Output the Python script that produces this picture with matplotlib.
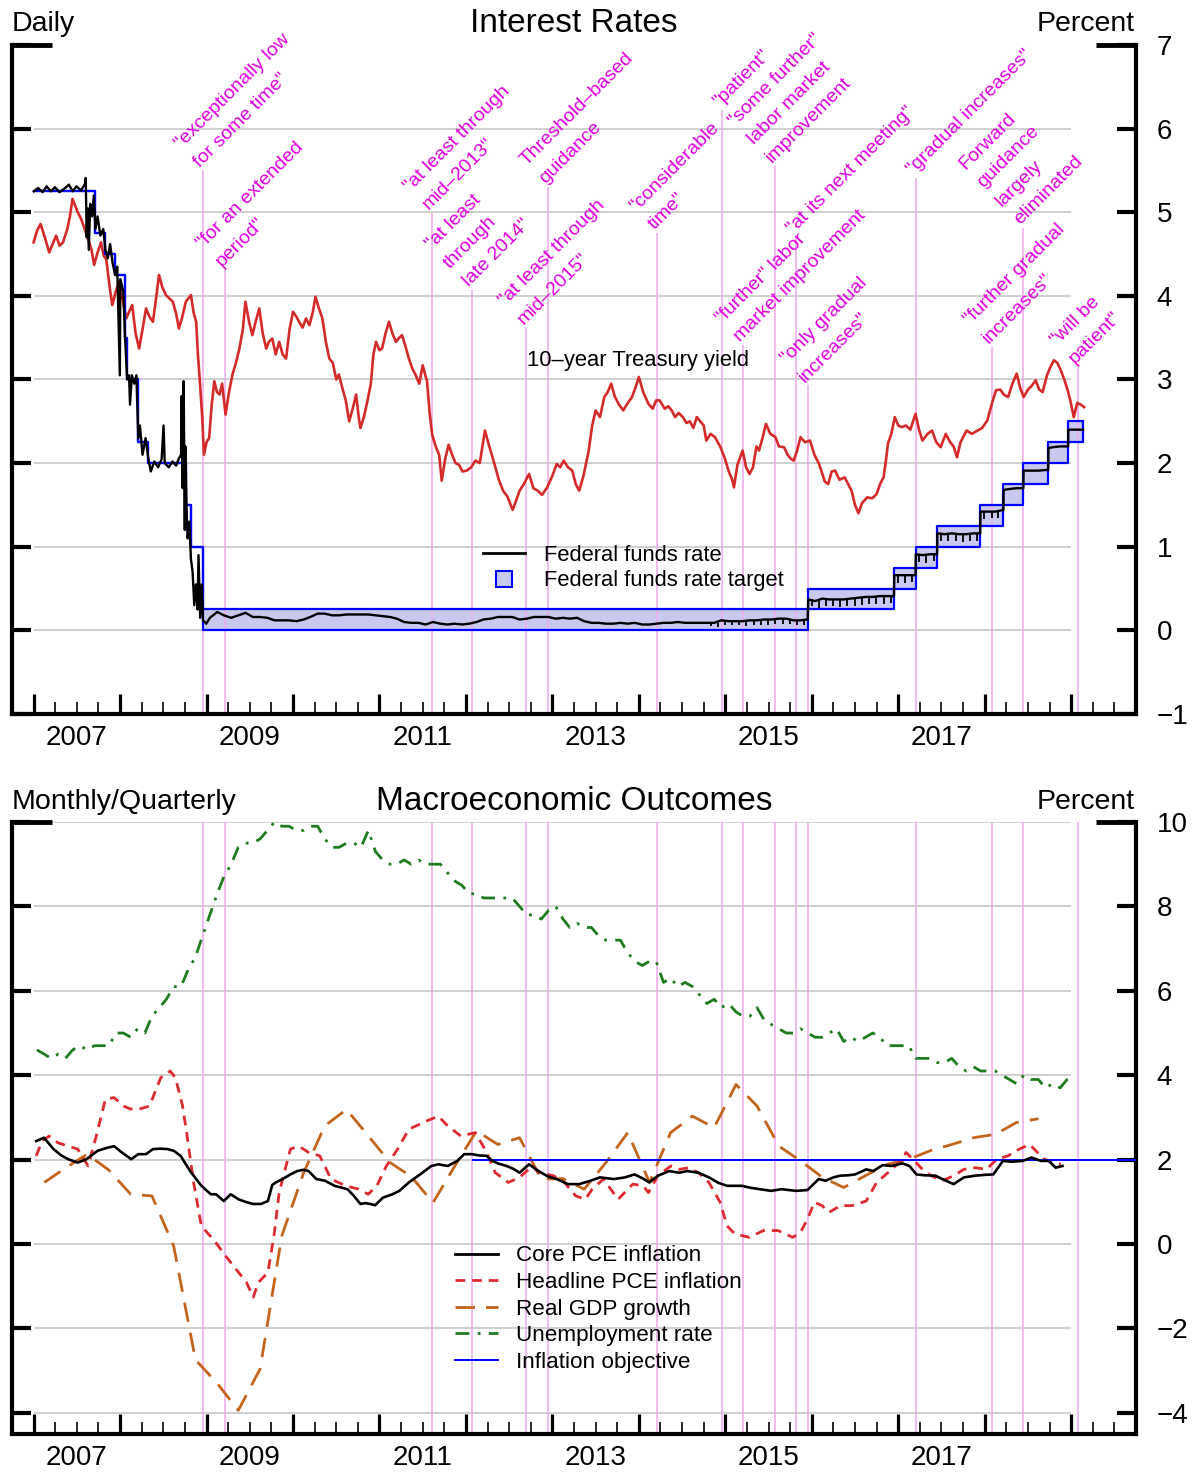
import numpy as np
import pandas as pd
import matplotlib
matplotlib.use("Agg")
import matplotlib.pyplot as plt
from matplotlib.lines import Line2D
from matplotlib.transforms import blended_transform_factory

plt.rcParams["font.family"] = ["Liberation Sans", "DejaVu Sans"]

# ---------------------------------------------------------------- data
# 10-year Treasury yield (decimal year, percent)
tsy_t = [2007.00, 2007.04, 2007.08, 2007.13, 2007.18, 2007.22, 2007.26, 2007.30, 2007.34, 2007.39,
         2007.42, 2007.45, 2007.48, 2007.51, 2007.55, 2007.59, 2007.63, 2007.67, 2007.70, 2007.74,
         2007.78, 2007.81, 2007.84, 2007.88, 2007.91, 2007.95, 2007.99, 2008.03, 2008.07, 2008.10,
         2008.14, 2008.18, 2008.22, 2008.26, 2008.30, 2008.34, 2008.38, 2008.42, 2008.45, 2008.49,
         2008.53, 2008.57, 2008.61, 2008.65, 2008.68, 2008.72, 2008.76, 2008.82, 2008.85, 2008.88,
         2008.90, 2008.92, 2008.95, 2008.97, 2009.00, 2009.03, 2009.06, 2009.09, 2009.12, 2009.15,
         2009.18, 2009.22, 2009.26, 2009.30, 2009.34, 2009.38, 2009.42, 2009.45, 2009.49, 2009.53,
         2009.57, 2009.61, 2009.65, 2009.69, 2009.72, 2009.76, 2009.80, 2009.84, 2009.88, 2009.92,
         2009.96, 2010.00, 2010.04, 2010.07, 2010.11, 2010.15, 2010.19, 2010.23, 2010.26, 2010.30,
         2010.34, 2010.38, 2010.42, 2010.46, 2010.50, 2010.53, 2010.57, 2010.61, 2010.65, 2010.69,
         2010.73, 2010.76, 2010.78, 2010.82, 2010.86, 2010.90, 2010.93, 2010.96, 2011.00, 2011.03,
         2011.07, 2011.11, 2011.15, 2011.19, 2011.23, 2011.26, 2011.30, 2011.34, 2011.38, 2011.42,
         2011.46, 2011.50, 2011.53, 2011.55, 2011.58, 2011.61, 2011.65, 2011.69, 2011.72, 2011.76,
         2011.80, 2011.84, 2011.88, 2011.92, 2011.96, 2012.01, 2012.06, 2012.11, 2012.16, 2012.22,
         2012.27, 2012.33, 2012.38, 2012.43, 2012.48, 2012.54, 2012.58, 2012.62, 2012.67, 2012.73,
         2012.78, 2012.83, 2012.88, 2012.94, 2013.00, 2013.05, 2013.09, 2013.13, 2013.18, 2013.23,
         2013.27, 2013.31, 2013.36, 2013.42, 2013.46, 2013.50, 2013.55, 2013.60, 2013.64, 2013.68,
         2013.72, 2013.77, 2013.82, 2013.86, 2013.92, 2013.96, 2014.00, 2014.05, 2014.11, 2014.16,
         2014.20, 2014.24, 2014.30, 2014.34, 2014.38, 2014.42, 2014.46, 2014.51, 2014.55, 2014.59,
         2014.63, 2014.67, 2014.71, 2014.75, 2014.78, 2014.83, 2014.88, 2014.94, 2014.99, 2015.04,
         2015.08, 2015.10, 2015.14, 2015.20, 2015.24, 2015.28, 2015.32, 2015.36, 2015.39, 2015.43,
         2015.47, 2015.52, 2015.58, 2015.62, 2015.68, 2015.72, 2015.76, 2015.79, 2015.83, 2015.87,
         2015.92, 2015.98, 2016.03, 2016.08, 2016.11, 2016.15, 2016.19, 2016.23, 2016.27, 2016.32,
         2016.38, 2016.42, 2016.46, 2016.50, 2016.54, 2016.58, 2016.64, 2016.70, 2016.75, 2016.79,
         2016.83, 2016.86, 2016.88, 2016.92, 2016.96, 2017.00, 2017.04, 2017.09, 2017.14, 2017.20,
         2017.24, 2017.28, 2017.34, 2017.39, 2017.44, 2017.49, 2017.55, 2017.60, 2017.64, 2017.68,
         2017.72, 2017.79, 2017.85, 2017.92, 2017.97, 2018.03, 2018.08, 2018.13, 2018.18, 2018.22,
         2018.27, 2018.32, 2018.37, 2018.41, 2018.45, 2018.50, 2018.54, 2018.59, 2018.63, 2018.67,
         2018.72, 2018.76, 2018.80, 2018.84, 2018.88, 2018.92, 2018.96, 2018.99, 2019.03, 2019.07,
         2019.11, 2019.15]
tsy_v = [4.64, 4.78, 4.86, 4.70, 4.52, 4.62, 4.72, 4.60, 4.64, 4.80,
         4.95, 5.16, 5.08, 5.00, 4.92, 4.80, 4.68, 4.55, 4.37, 4.52,
         4.64, 4.48, 4.44, 4.10, 3.89, 4.05, 4.17, 3.95, 3.73, 3.80,
         3.89, 3.55, 3.37, 3.60, 3.85, 3.75, 3.69, 4.00, 4.25, 4.10,
         4.01, 3.97, 3.93, 3.78, 3.61, 3.75, 3.93, 4.01, 3.80, 3.69,
         3.30, 3.02, 2.55, 2.10, 2.25, 2.30, 2.70, 2.98, 2.85, 2.82,
         2.95, 2.58, 2.85, 3.06, 3.20, 3.37, 3.60, 3.93, 3.70, 3.53,
         3.70, 3.85, 3.55, 3.37, 3.45, 3.49, 3.30, 3.45, 3.30, 3.25,
         3.60, 3.81, 3.75, 3.69, 3.62, 3.73, 3.65, 3.81, 3.99, 3.85,
         3.73, 3.45, 3.25, 3.20, 3.00, 3.06, 2.90, 2.75, 2.50, 2.65,
         2.82, 2.55, 2.42, 2.55, 2.74, 2.95, 3.30, 3.45, 3.35, 3.37,
         3.55, 3.69, 3.55, 3.45, 3.50, 3.53, 3.40, 3.25, 3.13, 3.05,
         2.95, 3.17, 3.05, 2.98, 2.60, 2.34, 2.20, 2.10, 1.79, 2.05,
         2.22, 2.10, 2.00, 1.98, 1.90, 1.91, 1.95, 2.03, 2.00, 2.39,
         2.20, 1.99, 1.80, 1.67, 1.60, 1.44, 1.55, 1.67, 1.75, 1.87,
         1.70, 1.67, 1.62, 1.71, 1.85, 1.99, 1.95, 2.03, 1.95, 1.91,
         1.75, 1.67, 1.85, 2.15, 2.45, 2.63, 2.55, 2.79, 2.85, 2.95,
         2.80, 2.70, 2.63, 2.70, 2.79, 2.90, 3.03, 2.85, 2.71, 2.65,
         2.75, 2.75, 2.65, 2.68, 2.63, 2.55, 2.60, 2.55, 2.48, 2.50,
         2.42, 2.55, 2.50, 2.45, 2.27, 2.35, 2.31, 2.20, 2.07, 1.90,
         1.80, 1.71, 1.98, 2.15, 1.95, 1.87, 1.95, 2.20, 2.15, 2.30,
         2.47, 2.35, 2.31, 2.20, 2.19, 2.10, 2.05, 2.03, 2.15, 2.31,
         2.25, 2.27, 2.10, 2.00, 1.91, 1.78, 1.75, 1.90, 1.91, 1.80,
         1.83, 1.75, 1.67, 1.50, 1.40, 1.52, 1.59, 1.58, 1.63, 1.75,
         1.83, 2.05, 2.23, 2.35, 2.55, 2.45, 2.43, 2.45, 2.40, 2.59,
         2.40, 2.27, 2.35, 2.39, 2.25, 2.19, 2.35, 2.25, 2.20, 2.07,
         2.25, 2.39, 2.35, 2.39, 2.42, 2.51, 2.70, 2.87, 2.88, 2.82,
         2.79, 2.95, 3.07, 2.90, 2.79, 2.88, 2.92, 2.99, 2.88, 2.85,
         3.05, 3.15, 3.23, 3.20, 3.11, 3.00, 2.87, 2.75, 2.55, 2.72,
         2.70, 2.67]

# effective federal funds rate, 2007-2008 (daily swings)
ffr_early_dates = ["2007-01-02", "2007-01-20", "2007-02-08", "2007-02-25", "2007-03-15", "2007-04-01",
                   "2007-04-20", "2007-05-10", "2007-05-30", "2007-06-15", "2007-07-01", "2007-07-20",
                   "2007-08-06", "2007-08-09", "2007-08-13", "2007-08-17", "2007-08-22", "2007-08-28",
                   "2007-09-05", "2007-09-12", "2007-09-19", "2007-09-28", "2007-10-10", "2007-10-22",
                   "2007-10-31", "2007-11-10", "2007-11-20", "2007-11-30", "2007-12-11", "2007-12-20",
                   "2007-12-31", "2008-01-02", "2008-01-15", "2008-01-22", "2008-01-31", "2008-02-08",
                   "2008-02-12", "2008-02-20", "2008-03-01", "2008-03-10", "2008-03-18", "2008-03-25",
                   "2008-04-05", "2008-04-18", "2008-04-30", "2008-05-10", "2008-05-25", "2008-06-10",
                   "2008-06-25", "2008-07-03", "2008-07-08", "2008-07-25", "2008-08-10", "2008-08-25",
                   "2008-09-05", "2008-09-15", "2008-09-17", "2008-09-22", "2008-09-26", "2008-10-01",
                   "2008-10-03", "2008-10-08", "2008-10-13", "2008-10-20", "2008-10-27", "2008-11-03",
                   "2008-11-10", "2008-11-17", "2008-11-24", "2008-11-28", "2008-12-05", "2008-12-12",
                   "2008-12-17", "2008-12-31"]
ffr_early_vals = [5.25, 5.29, 5.24, 5.31, 5.25, 5.30,
                  5.24, 5.28, 5.33, 5.25, 5.31, 5.26,
                  5.34, 5.41, 4.70, 5.05, 4.55, 5.10,
                  4.95, 5.20, 4.80, 4.95, 4.72, 4.80,
                  4.55, 4.45, 4.62, 4.40, 4.25, 4.35,
                  3.05, 4.20, 4.05, 3.50, 3.00, 3.05,
                  2.70, 3.05, 2.95, 3.05, 2.30, 2.45,
                  2.10, 2.30, 2.05, 1.90, 2.02, 1.95,
                  2.05, 2.45, 2.00, 1.95, 2.02, 1.97,
                  2.05, 2.10, 2.80, 1.70, 2.98, 1.20,
                  2.20, 1.50, 1.10, 1.30, 0.85, 0.70,
                  0.30, 0.55, 0.25, 0.90, 0.15, 0.55,
                  0.12, 0.08]

# effective federal funds rate, monthly Jan 2009 - Nov 2015
ffr_monthly_start = "2009-01"
ffr_monthly_vals = [0.15, 0.22, 0.18, 0.15, 0.18, 0.21, 0.16, 0.16, 0.15, 0.12, 0.12, 0.12,
                    0.11, 0.13, 0.16, 0.20, 0.20, 0.18, 0.18, 0.19, 0.19, 0.19, 0.19, 0.18,
                    0.17, 0.16, 0.14, 0.10, 0.09, 0.09, 0.07, 0.10, 0.08, 0.07, 0.08, 0.07,
                    0.08, 0.10, 0.13, 0.14, 0.16, 0.16, 0.16, 0.13, 0.14, 0.16, 0.16, 0.16,
                    0.14, 0.15, 0.14, 0.15, 0.11, 0.09, 0.09, 0.08, 0.08, 0.09, 0.08, 0.09,
                    0.07, 0.07, 0.08, 0.09, 0.09, 0.10, 0.09, 0.09, 0.09, 0.09, 0.09, 0.12,
                    0.11, 0.11, 0.11, 0.12, 0.12, 0.13, 0.13, 0.14, 0.14, 0.12, 0.12]

# effective federal funds rate around the liftoff and later hikes
ffr_late_dates = ["2015-12-15", "2015-12-17", "2016-01-15", "2016-02-15", "2016-03-15", "2016-04-15",
                  "2016-05-15", "2016-06-15", "2016-07-15", "2016-08-15", "2016-09-15", "2016-10-15",
                  "2016-11-15", "2016-12-14", "2016-12-15", "2017-01-15", "2017-02-15", "2017-03-15",
                  "2017-03-16", "2017-04-15", "2017-05-15", "2017-06-14", "2017-06-15", "2017-07-15",
                  "2017-08-15", "2017-09-15", "2017-10-15", "2017-11-15", "2017-12-13", "2017-12-14",
                  "2018-01-15", "2018-02-15", "2018-03-21", "2018-03-22", "2018-04-15", "2018-05-15",
                  "2018-06-13", "2018-06-14", "2018-07-15", "2018-08-15", "2018-09-26", "2018-09-27",
                  "2018-10-15", "2018-11-15", "2018-12-19", "2018-12-20", "2019-01-15", "2019-02-20"]
ffr_late_vals = [0.13, 0.37, 0.35, 0.38, 0.37, 0.37,
                 0.37, 0.38, 0.39, 0.40, 0.40, 0.41,
                 0.41, 0.41, 0.66, 0.66, 0.66, 0.66,
                 0.91, 0.90, 0.91, 0.91, 1.16, 1.15,
                 1.16, 1.15, 1.15, 1.16, 1.16, 1.42,
                 1.42, 1.42, 1.44, 1.68, 1.69, 1.70,
                 1.70, 1.91, 1.91, 1.91, 1.92, 2.18,
                 2.19, 2.20, 2.20, 2.40, 2.40, 2.40]

# month-end dips in the effective rate, Oct 2014 - Feb 2018
dip_start = "2014-10"
dip_top = [0.09, 0.09, 0.12,
           0.11, 0.11, 0.11, 0.12, 0.12, 0.13, 0.13, 0.14, 0.14, 0.12, 0.12, 0.37,
           0.35, 0.38, 0.37, 0.37, 0.37, 0.38, 0.39, 0.40, 0.40, 0.41, 0.41, 0.66,
           0.66, 0.66, 0.91, 0.90, 0.91, 1.16, 1.15, 1.16, 1.15, 1.15, 1.16, 1.42,
           1.42, 1.42]
dip_depth = [0.04, 0.05, 0.05,
             0.05, 0.05, 0.06, 0.05, 0.06, 0.06, 0.05, 0.06, 0.06, 0.05, 0.06, 0.08,
             0.08, 0.09, 0.08, 0.09, 0.08, 0.09, 0.09, 0.08, 0.09, 0.09, 0.08, 0.09,
             0.09, 0.08, 0.09, 0.09, 0.08, 0.09, 0.08, 0.09, 0.09, 0.08, 0.09, 0.09,
             0.08, 0.08]

# federal funds target (single value before Dec 2008, range after)
target_dates = ["2007-01-01", "2007-09-18", "2007-10-31", "2007-12-11", "2008-01-22", "2008-01-30",
                "2008-03-18", "2008-04-30", "2008-10-08", "2008-10-29", "2008-12-16", "2015-12-16",
                "2016-12-14", "2017-03-15", "2017-06-14", "2017-12-13", "2018-03-21", "2018-06-13",
                "2018-09-26", "2018-12-19"]
target_end = "2019-02-20"
target_lo = [5.25, 4.75, 4.50, 4.25, 3.50, 3.00, 2.25, 2.00, 1.50, 1.00, 0.00, 0.25,
             0.50, 0.75, 1.00, 1.25, 1.50, 1.75, 2.00, 2.25]
target_hi = [5.25, 4.75, 4.50, 4.25, 3.50, 3.00, 2.25, 2.00, 1.50, 1.00, 0.25, 0.50,
             0.75, 1.00, 1.25, 1.50, 1.75, 2.00, 2.25, 2.50]

# FOMC statement dates and forward-guidance phrases
fomc_dates = ["2008-12-16", "2009-03-18", "2011-08-09", "2012-01-25", "2012-09-13", "2012-12-12",
              "2014-03-19", "2014-12-17", "2015-03-18", "2015-07-29", "2015-10-28", "2015-12-16",
              "2017-03-15", "2018-01-31", "2018-06-13", "2019-01-30"]
fomc_text = ['"exceptionally low\nfor some time"',
             '"for an extended\nperiod"',
             '"at least through\nmid\u20132013"',
             '"at least\nthrough\nlate 2014"',
             '"at least through\nmid\u20132015"',
             'Threshold\u2013based\nguidance',
             '"considerable\ntime"',
             '"patient"',
             '"further" labor\nmarket improvement',
             '"some further"\nlabor market\nimprovement',
             '"at its next meeting"',
             '"only gradual\nincreases"',
             '"gradual increases"',
             '"further gradual\nincreases"',
             'Forward\nguidance\nlargely\neliminated',
             '"will be\npatient"']
# height (percent) where each phrase sits above the chart
fomc_label_y = [5.50, 4.31, 4.99, 4.07, 3.62, 5.30, 4.75, 6.22, 3.41, 5.55, 4.70, 2.93,
                5.41, 3.39, 4.81, 3.15]

# core PCE inflation, 12-month (decimal year, percent)
core_t = [2007.03, 2007.12, 2007.23, 2007.32, 2007.40, 2007.51, 2007.61, 2007.74, 2007.85, 2007.93,
          2008.02, 2008.13, 2008.21, 2008.30, 2008.38, 2008.47, 2008.55, 2008.62, 2008.70, 2008.81,
          2008.94, 2009.05, 2009.11, 2009.20, 2009.28, 2009.37, 2009.45, 2009.54, 2009.63, 2009.71,
          2009.76, 2009.80, 2009.88, 2009.97, 2010.05, 2010.12, 2010.18, 2010.27, 2010.37, 2010.48,
          2010.63, 2010.70, 2010.78, 2010.84, 2010.89, 2010.95, 2011.04, 2011.15, 2011.23, 2011.34,
          2011.47, 2011.60, 2011.68, 2011.79, 2011.90, 2011.98, 2012.07, 2012.15, 2012.24, 2012.30,
          2012.37, 2012.47, 2012.55, 2012.62, 2012.73, 2012.84, 2012.95, 2013.05, 2013.18, 2013.31,
          2013.44, 2013.55, 2013.63, 2013.71, 2013.84, 2013.95, 2014.05, 2014.12, 2014.22, 2014.35,
          2014.47, 2014.56, 2014.69, 2014.81, 2014.92, 2015.02, 2015.19, 2015.30, 2015.40, 2015.53,
          2015.65, 2015.82, 2015.95, 2016.08, 2016.16, 2016.25, 2016.33, 2016.42, 2016.50, 2016.63,
          2016.71, 2016.82, 2016.92, 2017.05, 2017.13, 2017.21, 2017.30, 2017.43, 2017.51, 2017.64,
          2017.76, 2017.89, 2018.00, 2018.10, 2018.21, 2018.31, 2018.44, 2018.54, 2018.65, 2018.74,
          2018.82, 2018.90]
core_v = [2.44, 2.52, 2.25, 2.10, 2.01, 1.93, 2.01, 2.21, 2.28, 2.32,
          2.17, 2.01, 2.13, 2.13, 2.25, 2.26, 2.25, 2.21, 2.09, 1.73,
          1.38, 1.18, 1.18, 1.02, 1.18, 1.06, 1.00, 0.95, 0.95, 1.02,
          1.40, 1.46, 1.54, 1.65, 1.73, 1.76, 1.73, 1.54, 1.50, 1.38,
          1.30, 1.15, 0.95, 0.97, 0.95, 0.92, 1.10, 1.18, 1.26, 1.46,
          1.65, 1.85, 1.89, 1.85, 1.97, 2.13, 2.13, 2.10, 2.09, 1.98,
          1.91, 1.85, 1.78, 1.69, 1.89, 1.73, 1.60, 1.54, 1.42, 1.42,
          1.50, 1.58, 1.56, 1.54, 1.58, 1.65, 1.55, 1.46, 1.62, 1.73,
          1.69, 1.73, 1.69, 1.58, 1.45, 1.38, 1.38, 1.33, 1.30, 1.26,
          1.30, 1.26, 1.28, 1.54, 1.50, 1.58, 1.62, 1.63, 1.65, 1.77,
          1.73, 1.87, 1.85, 1.91, 1.85, 1.65, 1.63, 1.62, 1.54, 1.42,
          1.58, 1.62, 1.64, 1.65, 1.97, 1.95, 1.97, 2.05, 1.97, 1.97,
          1.81, 1.85]

# headline PCE inflation, 12-month (decimal year, percent)
head_t = [2007.03, 2007.10, 2007.18, 2007.28, 2007.40, 2007.51, 2007.63, 2007.73, 2007.83, 2007.93,
          2008.04, 2008.12, 2008.21, 2008.34, 2008.47, 2008.58, 2008.64, 2008.72, 2008.77, 2008.85,
          2008.94, 2009.09, 2009.22, 2009.37, 2009.46, 2009.54, 2009.60, 2009.71, 2009.78, 2009.84,
          2009.97, 2010.07, 2010.18, 2010.31, 2010.44, 2010.61, 2010.76, 2010.87, 2010.97, 2011.08,
          2011.21, 2011.34, 2011.55, 2011.68, 2011.79, 2011.94, 2012.11, 2012.24, 2012.34, 2012.49,
          2012.62, 2012.77, 2012.84, 2013.01, 2013.14, 2013.27, 2013.38, 2013.46, 2013.59, 2013.76,
          2013.93, 2014.05, 2014.11, 2014.22, 2014.37, 2014.47, 2014.58, 2014.69, 2014.81, 2014.94,
          2015.02, 2015.11, 2015.28, 2015.44, 2015.61, 2015.78, 2015.87, 2015.95, 2016.03, 2016.12,
          2016.20, 2016.33, 2016.46, 2016.63, 2016.75, 2016.88, 2017.01, 2017.09, 2017.17, 2017.26,
          2017.38, 2017.51, 2017.64, 2017.76, 2017.89, 2018.02, 2018.14, 2018.27, 2018.40, 2018.52,
          2018.61, 2018.69, 2018.80, 2018.88]
head_v = [2.09, 2.45, 2.56, 2.40, 2.32, 2.25, 1.85, 2.60, 3.43, 3.47,
          3.27, 3.20, 3.19, 3.27, 3.94, 4.10, 3.94, 3.30, 2.64, 1.46,
          0.43, 0.08, -0.28, -0.67, -0.90, -1.26, -0.91, -0.67, 0.20, 1.22,
          2.25, 2.32, 2.17, 2.09, 1.54, 1.38, 1.30, 1.18, 1.38, 1.85,
          2.25, 2.72, 2.92, 3.03, 2.80, 2.56, 2.64, 2.17, 1.69, 1.46,
          1.58, 1.85, 1.69, 1.62, 1.46, 1.14, 1.06, 1.30, 1.54, 1.06,
          1.42, 1.38, 1.22, 1.62, 1.85, 1.77, 1.81, 1.69, 1.46, 0.99,
          0.43, 0.24, 0.16, 0.32, 0.32, 0.16, 0.28, 0.59, 0.99, 0.91,
          0.75, 0.91, 0.91, 1.02, 1.46, 1.69, 1.93, 2.17, 2.01, 1.81,
          1.62, 1.50, 1.62, 1.77, 1.81, 1.77, 2.01, 2.09, 2.25, 2.36,
          2.17, 2.01, 1.93, 1.89]

# real GDP growth, 4-quarter, 2007Q1 - 2018Q3
gdp_start = "2007Q1"
gdp_v = [1.46, 1.80, 2.13, 1.75,
         1.18, 1.14, -0.05, -2.74,
         -3.30, -3.94, -2.96, 0.20,
         1.69, 2.80, 3.19, 2.56,
         1.93, 1.60, 0.98, 1.85,
         2.68, 2.36, 2.52, 1.54,
         1.55, 1.30, 1.93, 2.64,
         1.46, 2.64, 3.03, 2.76,
         3.78, 3.27, 2.32, 1.97,
         1.58, 1.34, 1.62, 1.89,
         2.01, 2.21, 2.36, 2.52,
         2.60, 2.88, 2.97]

# unemployment rate, monthly Jan 2007 - Jan 2019
unemp_start = "2007-01"
unemp_v = [4.6, 4.5, 4.4, 4.5, 4.4, 4.6, 4.7, 4.6, 4.7, 4.7, 4.7, 5.0,
           5.0, 4.9, 5.1, 5.0, 5.4, 5.6, 5.8, 6.1, 6.1, 6.5, 6.8, 7.3,
           7.8, 8.3, 8.7, 9.0, 9.4, 9.5, 9.5, 9.6, 9.8, 10.0, 9.9, 9.9,
           9.8, 9.8, 9.9, 9.9, 9.6, 9.4, 9.4, 9.5, 9.5, 9.4, 9.8, 9.3,
           9.1, 9.0, 9.0, 9.1, 9.0, 9.1, 9.0, 9.0, 9.0, 8.8, 8.6, 8.5,
           8.3, 8.3, 8.2, 8.2, 8.2, 8.2, 8.2, 8.0, 7.8, 7.8, 7.7, 7.9,
           8.0, 7.7, 7.5, 7.6, 7.5, 7.5, 7.3, 7.2, 7.2, 7.2, 6.9, 6.7,
           6.6, 6.7, 6.7, 6.2, 6.3, 6.1, 6.2, 6.1, 5.9, 5.7, 5.8, 5.6,
           5.7, 5.5, 5.4, 5.4, 5.6, 5.3, 5.2, 5.1, 5.0, 5.0, 5.1, 5.0,
           4.9, 4.9, 5.0, 5.1, 4.8, 4.9, 4.8, 4.9, 5.0, 4.9, 4.7, 4.7,
           4.7, 4.7, 4.4, 4.4, 4.4, 4.3, 4.3, 4.4, 4.2, 4.1, 4.2, 4.1,
           4.1, 4.1, 4.0, 3.9, 3.8, 4.0, 3.9, 3.9, 3.7, 3.8, 3.7, 3.9,
           4.0]

inflation_objective = 2.0
objective_start = "2012-01-25"

year_labels = [2007, 2009, 2011, 2013, 2015, 2017]

# ---------------------------------------------------------------- helpers
MAGENTA = "#e000e0"
VLINE = "#eeaaee"
GRID = "#cccccc"
BLUE = "#0000ff"
FILL = "#c9c9f0"


def to_year(dates):
    d = pd.DatetimeIndex(pd.to_datetime(dates))
    days = np.where(d.is_leap_year, 366.0, 365.0)
    return np.asarray(d.year + (d.dayofyear - 1) / days, dtype=float)


def frame(ax, yticks, ylim, grid_vals, label_y):
    ax.set_xlim(2006.75, 2019.75)
    ax.set_ylim(*ylim)
    ax.spines["top"].set_visible(False)
    for s in ["left", "right", "bottom"]:
        ax.spines[s].set_linewidth(3)
    ax.set_yticks(yticks)
    ax.yaxis.set_ticks_position("both")
    ax.tick_params(axis="y", direction="in", length=14, width=3,
                   labelleft=False, labelright=True, labelsize=20, pad=15)
    ax.set_xticks(np.arange(2007, 2020))
    ax.set_xticks(np.arange(2006.75, 2019.76, 0.25), minor=True)
    ax.xaxis.set_ticks_position("bottom")
    ax.tick_params(axis="x", which="major", direction="in", length=14.5, width=2.3,
                   labelbottom=False)
    ax.tick_params(axis="x", which="minor", direction="in", length=8.5, width=1.2)
    ax.hlines(grid_vals, 2007.0, 2019.0, color=GRID, lw=1.3, zorder=0)
    # longer end ticks at the top of each scale
    ax.plot([0, 0.036], [1, 1], transform=ax.transAxes, color="k", lw=3.5,
            solid_capstyle="butt", clip_on=False)
    ax.plot([0.964, 1], [1, 1], transform=ax.transAxes, color="k", lw=3.5,
            solid_capstyle="butt", clip_on=False)
    trans = blended_transform_factory(ax.transData, ax.transAxes)
    for yr in year_labels:
        ax.text(yr + 0.5, label_y, str(yr), transform=trans, ha="center",
                va="center", fontsize=20)


fig = plt.figure(figsize=(11.94, 14.72), dpi=100)
ax1 = fig.add_axes([0.01005, 0.51495, 0.9414, 0.45448])
ax2 = fig.add_axes([0.01005, 0.02582, 0.9414, 0.41576])

fomc_x = to_year(fomc_dates)

# ---------------------------------------------------------------- interest rates
frame(ax1, np.arange(-1, 8), (-1, 7), np.arange(0, 7), -0.036)

ax1.vlines(fomc_x, -1, fomc_label_y, color=VLINE, lw=1.1, zorder=1.5)
for x, y, s in zip(fomc_x, fomc_label_y, fomc_text):
    ax1.text(x, y, s, rotation=45, rotation_mode="anchor", ha="left", va="bottom",
             multialignment="left", color=MAGENTA, fontsize=14, linespacing=1.7,
             clip_on=False)

ax1.plot(tsy_t, tsy_v, color="#d42a2a", lw=1.9, zorder=2)

tx = to_year(target_dates + [target_end])
lo = target_lo + [target_lo[-1]]
hi = target_hi + [target_hi[-1]]
ax1.fill_between(tx, lo, hi, step="post", facecolor=FILL, edgecolor="none", zorder=1)
ax1.step(tx, lo, where="post", color=BLUE, lw=1.6, zorder=3)
ax1.step(tx, hi, where="post", color=BLUE, lw=1.6, zorder=3)
ax1.vlines(tx[-1], lo[-1], hi[-1], color=BLUE, lw=1.6, zorder=3)

monthly_dates = pd.date_range(ffr_monthly_start + "-01", periods=len(ffr_monthly_vals),
                              freq="MS") + pd.Timedelta(days=14)
ffr_x = np.concatenate([to_year(ffr_early_dates), to_year(monthly_dates),
                        to_year(ffr_late_dates)])
ffr_v = np.concatenate([ffr_early_vals, ffr_monthly_vals, ffr_late_vals])
ax1.plot(ffr_x, ffr_v, color="k", lw=1.7, zorder=4)

dip_months = pd.period_range(dip_start, periods=len(dip_top), freq="M")
dip_x = to_year(dip_months.end_time.normalize())
dip_top = np.array(dip_top)
ax1.vlines(dip_x, dip_top - np.array(dip_depth), dip_top, color="k", lw=1.3, zorder=4)

ax1.text(2012.71, 3.23, "10\u2013year Treasury yield", fontsize=15.8, va="center")

handles1 = [Line2D([], [], color="k", lw=2),
            Line2D([], [], marker="s", ms=12, mfc=FILL, mec=BLUE, mew=1.5, ls="none")]
ax1.legend(handles1, ["Federal funds rate", "Federal funds rate target"],
           loc="upper left", bbox_to_anchor=(0.419, 0.2525), frameon=False,
           fontsize=15.8, handlelength=1.9, handletextpad=0.9, labelspacing=0.2,
           borderpad=0, borderaxespad=0)

# ---------------------------------------------------------------- macro outcomes
frame(ax2, np.arange(-4, 11, 2), (-4.5, 10), np.arange(-4, 11, 2), -0.039)
for x in fomc_x:
    ax2.axvline(x, color=VLINE, lw=1.1, zorder=1)

unemp_dates = pd.date_range(unemp_start + "-01", periods=len(unemp_v), freq="MS") \
    + pd.Timedelta(days=14)
quarters = pd.period_range(gdp_start, periods=len(gdp_v), freq="Q")
gdp_dates = quarters.start_time + pd.DateOffset(months=1, days=14)

ax2.plot(to_year(unemp_dates), unemp_v, color="#1e7b1e", lw=2,
         ls=(0, (5, 3, 1, 3)), zorder=3)
ax2.plot(to_year(gdp_dates), gdp_v, color="#c4641c", lw=2, ls=(0, (7, 4)), zorder=3)
ax2.plot(head_t, head_v, color="#dd2a30", lw=2, ls=(0, (3.5, 2.5)), zorder=3)
ax2.plot(core_t, core_v, color="k", lw=1.9, zorder=4)
ax2.hlines(inflation_objective, to_year([objective_start])[0], 2019.75, color=BLUE,
           lw=1.4, zorder=3)

handles2 = [Line2D([], [], color="k", lw=2),
            Line2D([], [], color="#dd2a30", lw=2, ls=(0, (3.5, 2.5))),
            Line2D([], [], color="#c4641c", lw=2, ls=(0, (7, 4))),
            Line2D([], [], color="#1e7b1e", lw=2, ls=(0, (5, 3, 1, 3))),
            Line2D([], [], color=BLUE, lw=1.4)]
ax2.legend(handles2, ["Core PCE inflation", "Headline PCE inflation", "Real GDP growth",
                      "Unemployment rate", "Inflation objective"],
           loc="upper left", bbox_to_anchor=(0.394, 0.308), frameon=False,
           fontsize=16.2, handlelength=1.9, handletextpad=0.8, labelspacing=0.25,
           borderpad=0, borderaxespad=0)

# ---------------------------------------------------------------- headers
for y, left, title in [(0.984, "Daily", "Interest Rates"),
                       (0.4555, "Monthly/Quarterly", "Macroeconomic Outcomes")]:
    fig.text(0.01, y, left, fontsize=20.5, va="center", ha="left")
    fig.text(0.4807, y, title, fontsize=24, va="center", ha="center")
    fig.text(0.9506, y, "Percent", fontsize=20.5, va="center", ha="right")

fig.savefig("out.png", dpi=100)
